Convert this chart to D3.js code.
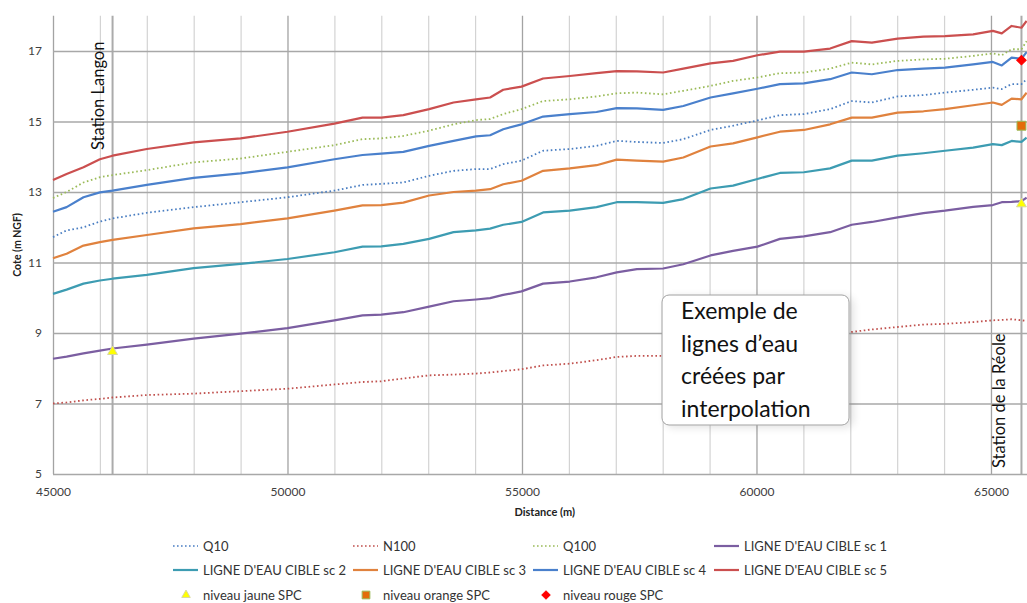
<!DOCTYPE html>
<html><head><meta charset="utf-8">
<script src="https://cdn.jsdelivr.net/npm/d3@7"></script>
<style>
html,body{margin:0;padding:0;background:#fff;}
svg{display:block;font-family:Lato,"Open Sans",sans-serif;}
</style></head>
<body><svg id="chart" width="1027" height="603"></svg>
<script>
// ---------- DATA ----------
const distance = [45000,45290,45650,46000,46270,47000,48000,49000,50000,51000,51600,52000,52470,53020,53540,54020,54320,54600,54990,55450,56020,56590,57020,57450,58010,58440,59020,59500,60020,60500,61010,61570,62030,62460,63010,63560,64020,64620,65040,65230,65440,65650,65760];

const q10  = [11.72,11.91,12.0,12.16,12.25,12.41,12.57,12.71,12.85,13.04,13.2,13.23,13.27,13.46,13.6,13.65,13.65,13.79,13.89,14.17,14.22,14.31,14.45,14.42,14.39,14.5,14.76,14.88,15.03,15.18,15.21,15.35,15.58,15.54,15.71,15.75,15.82,15.9,15.96,15.92,16.06,16.06,16.2];
const n100 = [7.0,7.03,7.09,7.13,7.17,7.24,7.28,7.35,7.42,7.54,7.61,7.63,7.71,7.8,7.82,7.85,7.88,7.92,7.97,8.08,8.13,8.23,8.32,8.35,8.35,8.42,8.55,8.62,8.72,8.82,8.87,8.95,9.03,9.1,9.17,9.24,9.26,9.31,9.36,9.37,9.39,9.36,9.34];
const q100 = [12.83,13.0,13.27,13.42,13.48,13.62,13.84,13.95,14.14,14.33,14.5,14.52,14.59,14.74,14.92,15.04,15.07,15.21,15.35,15.58,15.63,15.71,15.8,15.82,15.77,15.87,16.01,16.15,16.25,16.37,16.39,16.5,16.67,16.62,16.72,16.76,16.78,16.86,16.93,16.88,17.05,17.05,17.28];
const sc1  = [8.27,8.33,8.42,8.5,8.56,8.67,8.84,8.98,9.14,9.36,9.5,9.52,9.59,9.75,9.9,9.95,9.99,10.08,10.18,10.4,10.46,10.58,10.72,10.81,10.83,10.95,11.2,11.33,11.45,11.67,11.74,11.86,12.07,12.15,12.28,12.4,12.47,12.58,12.63,12.71,12.72,12.74,12.84];
const sc2  = [10.11,10.23,10.4,10.49,10.54,10.65,10.84,10.96,11.1,11.29,11.45,11.46,11.53,11.67,11.86,11.91,11.96,12.07,12.15,12.42,12.47,12.57,12.71,12.71,12.69,12.8,13.1,13.18,13.37,13.54,13.56,13.67,13.89,13.89,14.03,14.1,14.17,14.26,14.36,14.33,14.45,14.42,14.54];
const sc3  = [11.12,11.25,11.48,11.58,11.64,11.78,11.97,12.09,12.25,12.47,12.62,12.63,12.7,12.9,13.0,13.04,13.08,13.22,13.32,13.6,13.67,13.76,13.92,13.89,13.86,13.98,14.29,14.38,14.55,14.71,14.76,14.92,15.11,15.11,15.25,15.29,15.35,15.46,15.54,15.47,15.65,15.63,15.82];
const sc4  = [12.44,12.57,12.85,12.99,13.04,13.2,13.4,13.53,13.7,13.93,14.05,14.09,14.14,14.31,14.45,14.58,14.61,14.78,14.92,15.14,15.21,15.27,15.38,15.37,15.33,15.44,15.68,15.8,15.93,16.06,16.08,16.2,16.39,16.34,16.46,16.5,16.53,16.62,16.69,16.59,16.81,16.78,16.97];
const sc5  = [13.34,13.51,13.7,13.93,14.03,14.22,14.41,14.52,14.71,14.94,15.11,15.11,15.18,15.35,15.54,15.63,15.68,15.9,15.99,16.22,16.29,16.37,16.43,16.42,16.39,16.5,16.65,16.72,16.88,16.98,16.98,17.07,17.28,17.24,17.35,17.41,17.42,17.47,17.57,17.5,17.71,17.66,17.85];

const jauneDist = [46270, 65650], jauneVal = [8.47, 12.66];
const orangeDist = [65650],      orangeVal = [14.88];
const rougeDist = [65650],       rougeVal = [16.74];

const stationNames = ["Station Langon", "Station de la Réole"];
const stationDist  = [46270, 65650];

const xTickLabels = [45000, 50000, 55000, 60000, 65000];
const yTickLabels = [5, 7, 9, 11, 13, 15, 17];
const xTitle = "Distance (m)";
const yTitle = "Cote (m NGF)";
const noteLines = ["Exemple de", "lignes d\u2019eau", "créées par", "interpolation"];

const seriesNames = ["Q10","N100","Q100","LIGNE D'EAU CIBLE sc 1","LIGNE D'EAU CIBLE sc 2","LIGNE D'EAU CIBLE sc 3","LIGNE D'EAU CIBLE sc 4","LIGNE D'EAU CIBLE sc 5"];
const seriesValues = [q10, n100, q100, sc1, sc2, sc3, sc4, sc5];
const markerNames = ["niveau jaune SPC","niveau orange SPC","niveau rouge SPC"];

// ---------- STYLE ----------
const seriesColor = ["#4a7ec2","#c0504d","#9bbb59","#7b5ea1","#3d9cb2","#e0823e","#4a80cc","#cb4f4f"];
const seriesDotted = [true,true,true,false,false,false,false,false];

const svg = d3.select("#chart");
const L = 53, R = 1028.5, T = 15.75, B = 474;
const x = d3.scaleLinear().domain([45000, 65800]).range([L, R]);
const y = d3.scaleLinear().domain([5, 18]).range([B, T]);

svg.append("rect").attr("width",1027).attr("height",603).attr("fill","#fff");

// vertical gridlines
const gx = svg.append("g").attr("transform", `translate(0,${B})`)
  .call(d3.axisBottom(x).tickValues(d3.range(45000, 65001, 1000)).tickSize(-(B - T)).tickFormat(""));
gx.select(".domain").remove();
gx.selectAll(".tick line")
  .attr("stroke", d => d % 5000 === 0 ? "#a3a3a3" : "#d3d3d3")
  .attr("stroke-width", d => d % 5000 === 0 ? 1.3 : 1.2);

// station lines
svg.append("g").selectAll("line").data(stationDist).join("line")
  .attr("x1", d => x(d)).attr("x2", d => x(d)).attr("y1", T).attr("y2", B)
  .attr("stroke", "#ababab").attr("stroke-width", 2);

// horizontal gridlines
const gy = svg.append("g").attr("transform", `translate(${L},0)`)
  .call(d3.axisLeft(y).tickValues(yTickLabels).tickSize(-(R - L)).tickFormat(""));
gy.select(".domain").remove();
gy.selectAll(".tick line").attr("stroke", "#a8a8a8").attr("stroke-width", 1.5);

// axis labels
const ax = svg.append("g").attr("transform", `translate(0,${B})`)
  .call(d3.axisBottom(x).tickValues(xTickLabels).tickSize(0).tickPadding(13).tickFormat(d3.format("d")));
ax.select(".domain").remove();
ax.selectAll("text").attr("font-size", 12).attr("fill", "#404040").attr("font-family","Lato");

const ay = svg.append("g").attr("transform", `translate(${L},0)`)
  .call(d3.axisLeft(y).tickValues(yTickLabels).tickSize(0).tickPadding(11));
ay.select(".domain").remove();
ay.selectAll("text").attr("font-size", 12).attr("fill", "#404040").attr("font-family","Lato");

svg.append("text").attr("x", (L + R) / 2 + 4).attr("y", 516).attr("text-anchor","middle")
  .attr("font-size", 11).attr("font-weight","bold").attr("fill","#222").text(xTitle);
svg.append("text").attr("transform", "translate(21,245) rotate(-90)").attr("text-anchor","middle")
  .attr("font-size", 10.5).attr("font-weight","bold").attr("fill","#222").text(yTitle);

// station labels
svg.append("g").selectAll("text").data(stationNames).join("text")
  .attr("transform", (d, i) => `translate(${x(stationDist[i]) - (i === 0 ? 8.5 : 16.5)},${i === 0 ? 150 : 468}) rotate(-90)`)
  .attr("font-size", 16.5).attr("fill", "#111").text(d => d);

// lines
const line = d3.line().x(d => x(d[0])).y(d => y(d[1]));
seriesValues.forEach((vals, i) => {
  const pts = distance.map((d, k) => [d, vals[k]]);
  svg.append("path").datum(pts)
    .attr("d", line).attr("fill","none")
    .attr("stroke", seriesColor[i])
    .attr("stroke-width", seriesDotted[i] ? 1.8 : 2.2)
    .attr("stroke-dasharray", seriesDotted[i] ? "1.6,2.6" : null)
    .attr("stroke-linejoin","round");
});

// markers
const sym = (type, size) => d3.symbol().type(type).size(size)();
const markerDefs = [
  {dist: jauneDist, val: jauneVal, type: d3.symbolTriangle, size: 42, fill: "#ffff00", stroke: "#d8d8a0"},
  {dist: orangeDist, val: orangeVal, type: d3.symbolSquare, size: 80, fill: "#e36c0a", stroke: "#9bbb59"},
  {dist: rougeDist, val: rougeVal, type: d3.symbolSquare, size: 45, fill: "#ff0000", stroke: "#ff0000", rot: 45}
];
markerDefs.forEach(m => {
  svg.append("g").selectAll("path").data(m.dist).join("path")
    .attr("transform", (d, k) => `translate(${x(d)},${y(m.val[k])}) rotate(${m.rot || 0})`)
    .attr("d", sym(m.type, m.size)).attr("fill", m.fill).attr("stroke", m.stroke).attr("stroke-width", 1);
});

// note box
const defs = svg.append("defs");
const f = defs.append("filter").attr("id","sh").attr("x","-20%").attr("y","-20%").attr("width","150%").attr("height","150%");
f.append("feGaussianBlur").attr("in","SourceAlpha").attr("stdDeviation",4).attr("result","b");
f.append("feOffset").attr("in","b").attr("dx",4).attr("dy",2).attr("result","o");
f.append("feComponentTransfer").attr("in","o").attr("result","o2").append("feFuncA").attr("type","linear").attr("slope",0.12);
const fm = f.append("feMerge"); fm.append("feMergeNode").attr("in","o2"); fm.append("feMergeNode").attr("in","SourceGraphic");
svg.append("rect").attr("x",662).attr("y",295).attr("width",187).attr("height",130).attr("rx",7)
  .attr("fill","#fff").attr("stroke","#a0a0a0").attr("stroke-width",1).attr("filter","url(#sh)");
svg.append("g").selectAll("text").data(noteLines).join("text")
  .attr("x", 681).attr("y", (d, i) => 319 + i * 32.7)
  .attr("font-size", 23).attr("fill","#111").text(d => d);

// legend
const colX = [173, 353, 533, 714];
const rowY = [546, 570, 595];
const leg = svg.append("g").attr("font-size", 13).attr("fill", "#333");
seriesNames.forEach((name, i) => {
  const cx = colX[i % 4], cy = rowY[Math.floor(i / 4)];
  leg.append("line").attr("x1", cx).attr("x2", cx + 25).attr("y1", cy).attr("y2", cy)
    .attr("stroke", seriesColor[i]).attr("stroke-width", seriesDotted[i] ? 1.6 : 2.2)
    .attr("stroke-dasharray", seriesDotted[i] ? "1.6,2.4" : null);
  leg.append("text").attr("x", cx + 30).attr("y", cy).attr("dy","0.35em").text(name);
});
markerNames.forEach((name, i) => {
  const m = markerDefs[i];
  const cx = colX[i], cy = rowY[2];
  leg.append("path").attr("transform", `translate(${cx + 13},${cy}) rotate(${m.rot || 0})`)
    .attr("d", sym(m.type, m.size * 0.75)).attr("fill", m.fill).attr("stroke", m.stroke).attr("stroke-width", 1);
  leg.append("text").attr("x", cx + 30).attr("y", cy).attr("dy","0.35em").text(name);
});
</script></body></html>
